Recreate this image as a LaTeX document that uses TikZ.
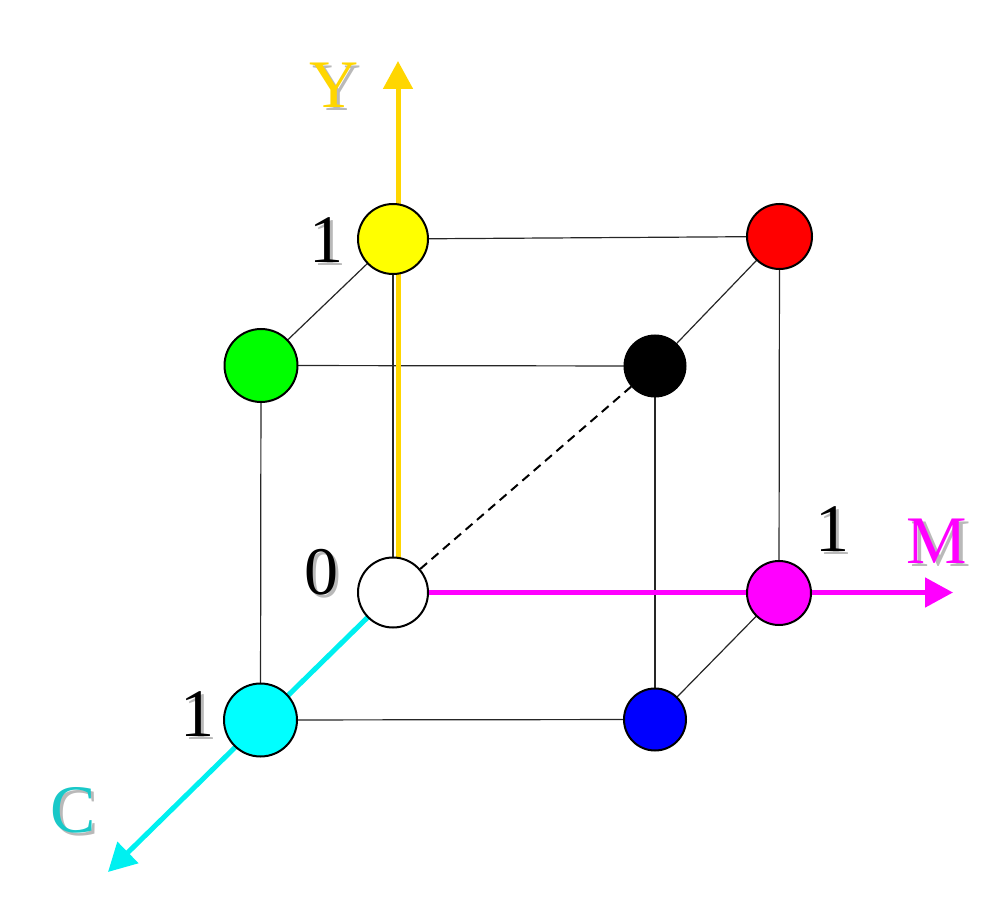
\documentclass[tikz,border=0pt]{standalone}
\usepackage{fontspec}
\setmainfont{Liberation Serif}
\usetikzlibrary{arrows.meta}

\definecolor{axisgold}{RGB}{255,214,0}
\definecolor{axiscyan}{RGB}{0,240,240}
\definecolor{labelcyan}{RGB}{25,200,200}
\definecolor{shadowgray}{RGB}{185,185,185}
\definecolor{pureyellow}{RGB}{255,255,0}
\definecolor{purered}{RGB}{255,0,0}
\definecolor{puregreen}{RGB}{0,255,0}
\definecolor{puremagenta}{RGB}{255,0,255}
\definecolor{purecyan}{RGB}{0,255,255}
\definecolor{pureblue}{RGB}{0,0,255}

% label with a soft gray drop shadow behind it
\newcommand\shadowlabel[4]{%
  \node[lbl, text=shadowgray, xshift=3.5pt, yshift=-3pt] (#1s) at (#2) {#4};
  \node[lbl, text=#3] (#1) at (#2) {#4};
}

\begin{document}
\begin{tikzpicture}[x=1pt, y=-1pt,
    vertex/.style={circle, draw=black, line width=2pt, inner sep=0pt},
    edge/.style={line width=1.2pt, black!85},
    axis/.style={line width=5pt, -{Triangle[length=28pt, width=29pt]}},
    diag/.style={line width=2pt, dash pattern=on 9pt off 6pt},
    lbl/.style={inner sep=0pt, font=\fontsize{68}{72}\selectfont}]
  \useasboundingbox (0,0) rectangle (1007,904);

  % cube corners
  \coordinate (Ypos) at (393,239);
  \coordinate (Rpos) at (779.5,236.5);
  \coordinate (Gpos) at (261,365.5);
  \coordinate (Kpos) at (655,366);
  \coordinate (Opos) at (393,592.5);
  \coordinate (Mpos) at (779,593);
  \coordinate (Cpos) at (260.5,720);
  \coordinate (Bpos) at (655,719.5);

  % axis tips
  \coordinate (ytip) at (398,61);
  \coordinate (mtip) at (953,592.5);
  \coordinate (ctip) at (108,872);

  % cube edges
  \draw[edge] (Ypos) -- (Rpos);
  \draw[edge] (Ypos) -- (Gpos);
  \draw[edge] (Gpos) -- (Kpos);
  \draw[edge] (Rpos) -- (Kpos);
  \draw[edge] (Ypos) -- (Opos);
  \draw[edge] (Gpos) -- (Cpos);
  \draw[edge] (Kpos) -- (Bpos);
  \draw[edge] (Rpos) -- (Mpos);
  \draw[edge] (Cpos) -- (Bpos);
  \draw[edge] (Bpos) -- (Mpos);
  \draw[edge] (Opos) -- (Cpos);
  \draw[edge] (Opos) -- (Mpos);

  % colour axes
  \draw[axis, axisgold] (Opos -| ytip) -- (ytip);
  \draw[axis, puremagenta] (Opos) -- (mtip);
  \draw[axis, axiscyan] (Opos) -- (ctip);

  % corners of the cube
  \node[vertex, fill=pureyellow,  minimum size=70pt] (Y) at (Ypos) {};
  \node[vertex, fill=purered,     minimum size=65pt] (R) at (Rpos) {};
  \node[vertex, fill=puregreen,   minimum size=73pt] (G) at (Gpos) {};
  \node[vertex, fill=black,       minimum size=61pt] (K) at (Kpos) {};
  \node[vertex, fill=white,       minimum size=70pt] (O) at (Opos) {};
  \node[vertex, fill=puremagenta, minimum size=64pt] (M) at (Mpos) {};
  \node[vertex, fill=purecyan,    minimum size=73pt] (C) at (Cpos) {};
  \node[vertex, fill=pureblue,    minimum size=62pt] (B) at (Bpos) {};

  % grey diagonal from white to black
  \draw[diag] (O) -- (K);

  % axis names and unit marks
  \shadowlabel{ylabel}{334,85}{axisgold}{Y}
  \shadowlabel{mlabel}{937,541}{puremagenta}{M}
  \shadowlabel{clabel}{73,810}{labelcyan}{C}
  \shadowlabel{yone}{326,240}{black}{1}
  \shadowlabel{zero}{321,572}{black}{0}
  \shadowlabel{cone}{197,714}{black}{1}
  \shadowlabel{mone}{832,529}{black}{1}
\end{tikzpicture}
\end{document}
